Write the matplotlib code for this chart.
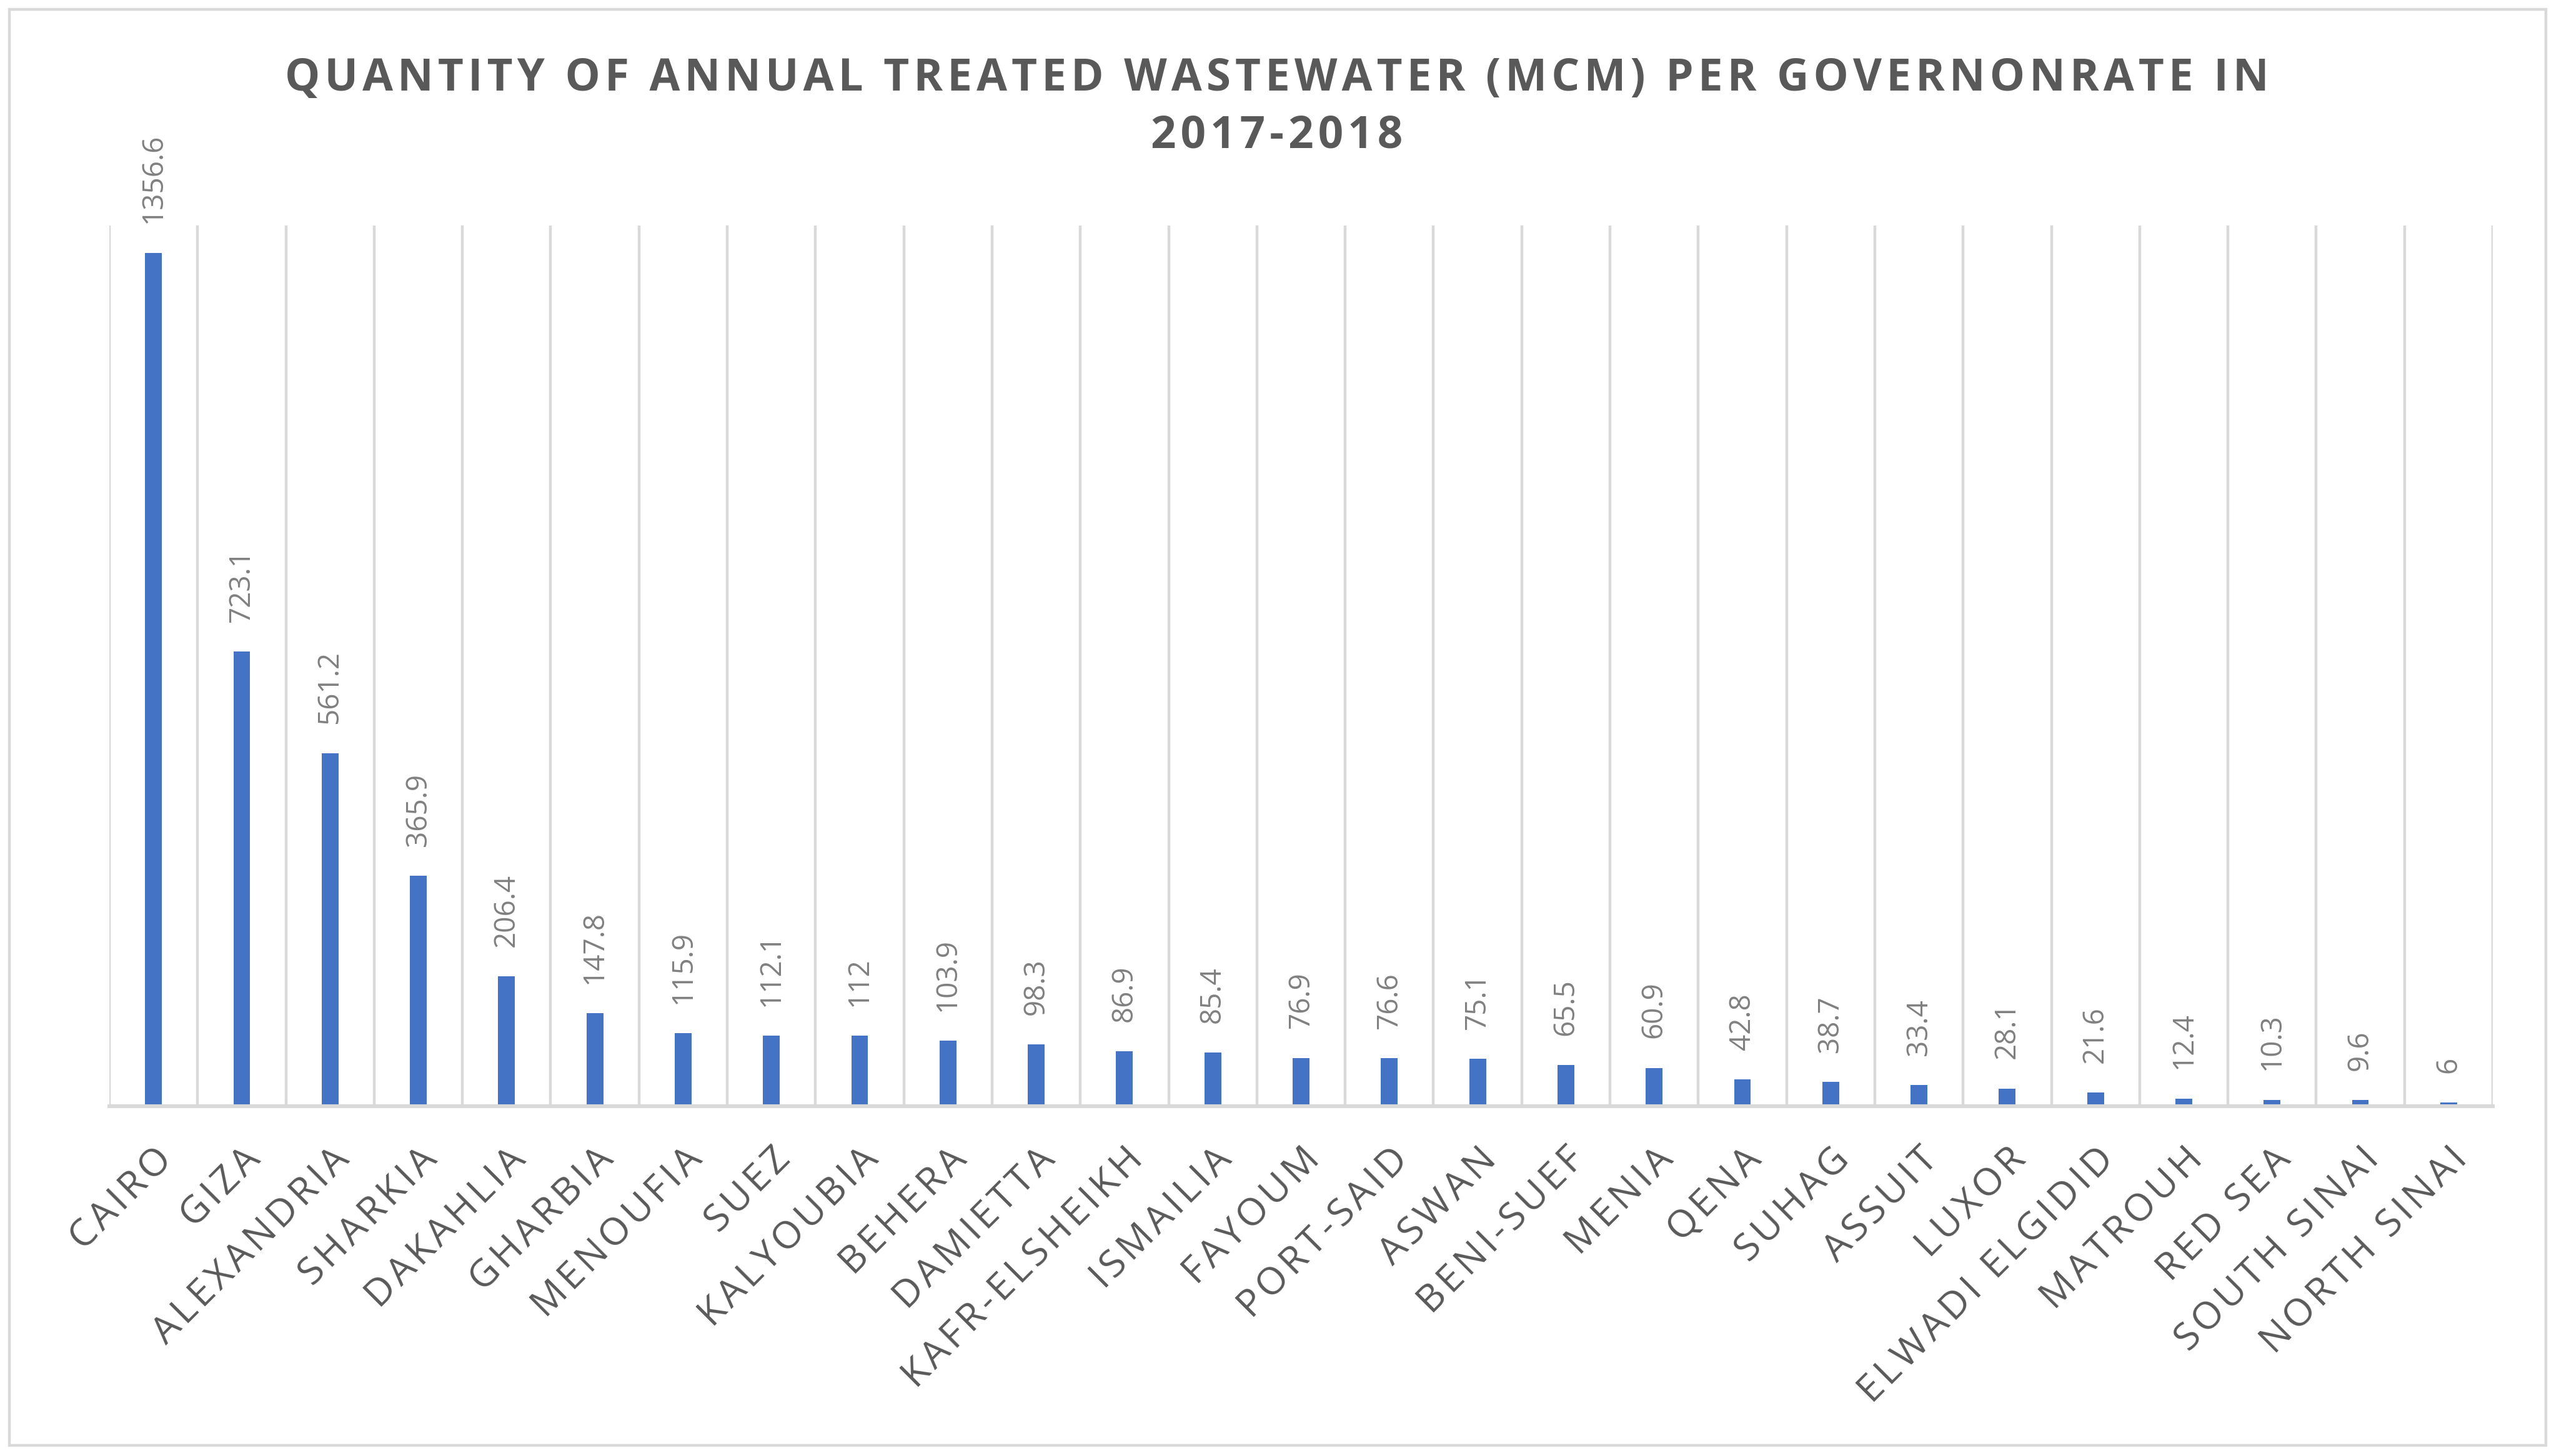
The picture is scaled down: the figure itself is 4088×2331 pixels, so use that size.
import matplotlib
matplotlib.use("Agg")
import matplotlib.pyplot as plt
from matplotlib.patches import Rectangle
import numpy as np

OUT_PNG = "out.png"

governorates = [
    "CAIRO", "GIZA", "ALEXANDRIA", "SHARKIA", "DAKAHLIA", "GHARBIA", "MENOUFIA",
    "SUEZ", "KALYOUBIA", "BEHERA", "DAMIETTA", "KAFR-ELSHEIKH", "ISMAILIA",
    "FAYOUM", "PORT-SAID", "ASWAN", "BENI-SUEF", "MENIA", "QENA", "SUHAG",
    "ASSUIT", "LUXOR", "ELWADI ELGIDID", "MATROUH", "RED SEA", "SOUTH SINAI",
    "NORTH SINAI",
]
treated_mcm = [
    1356.6, 723.1, 561.2, 365.9, 206.4, 147.8, 115.9,
    112.1, 112, 103.9, 98.3, 86.9, 85.4,
    76.9, 76.6, 75.1, 65.5, 60.9, 42.8, 38.7,
    33.4, 28.1, 21.6, 12.4, 10.3, 9.6,
    6,
]

TITLE = "QUANTITY OF ANNUAL TREATED WASTEWATER (MCM) PER GOVERNONRATE IN\n2017-2018"

BAR_COLOR = "#4472C4"
GRID_COLOR = "#D9D9D9"
LABEL_COLOR = "#808080"
TEXT_COLOR = "#595959"
FONT = ["Open Sans", "DejaVu Sans"]


def spaced(s, sep="\u200a"):
    # poor man's letter spacing, like Excel's chart titles
    return sep.join(s)


def main():
    W, H, DPI = 4088, 2331, 200
    fig = plt.figure(figsize=(W / DPI, H / DPI), dpi=DPI)
    ax = fig.add_axes([175 / W, 1 - 1771 / H, (3990 - 175) / W, (1771 - 361) / H])

    x = np.arange(len(governorates))
    ax.bar(x, treated_mcm, width=0.19, color=BAR_COLOR, zorder=3)

    ax.set_xlim(-0.5, len(governorates) - 0.5)
    ax.set_ylim(0, 1400)

    # vertical gridlines between categories
    for b in np.arange(-0.5, len(governorates) + 0.5, 1.0):
        ax.axvline(b, color=GRID_COLOR, lw=1.6, zorder=1)

    for xi, v in zip(x, treated_mcm):
        ax.annotate(f"{v:g}", (xi, v), xytext=(0, 17), textcoords="offset points",
                    rotation=90, ha="center", va="bottom", fontsize=16.5,
                    color=LABEL_COLOR, family=FONT)

    ax.set_xticks(x)
    ax.set_xticklabels([spaced(g) for g in governorates], rotation=45, ha="right",
                       rotation_mode="anchor", fontsize=22, color=TEXT_COLOR,
                       family=FONT)
    ax.tick_params(axis="x", length=0, pad=20)
    ax.set_yticks([])

    for side in ("top", "left", "right"):
        ax.spines[side].set_visible(False)
    ax.spines["bottom"].set_color(GRID_COLOR)
    ax.spines["bottom"].set_linewidth(2.2)
    ax.spines["bottom"].set_zorder(4)

    fig.text(0.5, 1 - 172 / H, "\n".join(spaced(l) for l in TITLE.split("\n")),
             ha="center", va="center", fontsize=25.5, fontweight="bold",
             color=TEXT_COLOR, family=FONT, linespacing=1.35)

    # outer chart border
    fig.patches.append(Rectangle((15 / W, 1 - 2314 / H), (4075 - 15) / W, (2314 - 15) / H,
                                 transform=fig.transFigure, fill=False,
                                 edgecolor=GRID_COLOR, lw=1.6))

    fig.savefig(OUT_PNG, dpi=DPI)
    plt.close(fig)


if __name__ == "__main__":
    main()
